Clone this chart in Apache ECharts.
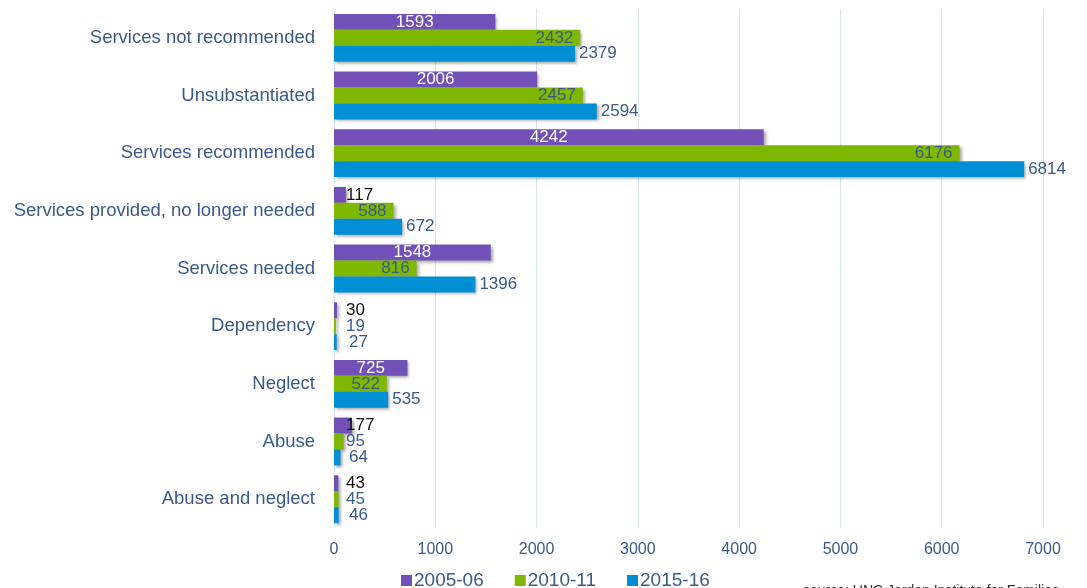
<!DOCTYPE html>
<html>
<head>
<meta charset="utf-8">
<script src="https://cdn.jsdelivr.net/npm/echarts@6/dist/echarts.min.js"></script>
<style>html,body{margin:0;padding:0;background:#fff}#c{width:1087px;height:588px}</style>
</head>
<body>
<div id="c"></div>
<script>
var categories = ["Services not recommended","Unsubstantiated","Services recommended","Services provided, no longer needed","Services needed","Dependency","Neglect","Abuse","Abuse and neglect"];
var s2005 = [1593, 2006, 4242, 117, 1548, 30, 725, 177, 43];
var s2010 = [2432, 2457, 6176, 588, 816, 19, 522, 95, 45];
var s2015 = [2379, 2594, 6814, 672, 1396, 27, 535, 64, 46];
var seriesNames = ["2005-06","2010-11","2015-16"];
var xTicks = [0,1000,2000,3000,4000,5000,6000,7000];

var FONT = '"Liberation Sans", Arial, sans-serif';
var TXT = '#3A5A88';
var shadow = {shadowBlur:3, shadowColor:'rgba(0,0,0,0.35)', shadowOffsetX:2, shadowOffsetY:2};

function purpleData(arr){
  return arr.map(function(v){
    if (v > 300) return {value:v, label:{position:'inside', color:'#fff'}};
    return {value:v, label:{position:'insideLeft', color:'#111', distance:12}};
  });
}
function greenData(arr){
  return arr.map(function(v){
    if (v > 300) return {value:v, label:{position:'insideRight', distance:7}};
    return {value:v, label:{position:'insideLeft', distance:12}};
  });
}
function blueData(arr){
  return arr.map(function(v){
    if (v > 100) return {value:v, label:{position:'right', distance:4}};
    return {value:v, label:{position:'insideLeft', distance:15}};
  });
}

var chart = echarts.init(document.getElementById('c'), null, {renderer:'canvas'});
chart.setOption({
  animation:false,
  grid:{left:334, right:44, top:9, bottom:60, containLabel:false},
  xAxis:{type:'value', min:xTicks[0], max:xTicks[xTicks.length-1], interval:xTicks[1]-xTicks[0],
    axisLine:{show:false}, axisTick:{show:false},
    splitLine:{lineStyle:{color:'#D8E4F2', width:1}},
    axisLabel:{color:TXT, fontSize:16, fontFamily:FONT, margin:14, formatter:function(v){return String(v);}}},
  yAxis:{type:'category', data:categories, inverse:true,
    axisLine:{lineStyle:{color:'#D8E4F2'}}, axisTick:{show:false},
    axisLabel:{color:TXT, fontSize:18.5, fontFamily:FONT, margin:19}},
  legend:{top:566, left:396, itemWidth:11, itemHeight:11, itemGap:31,
    icon:'rect', textStyle:{color:TXT, fontSize:19, fontFamily:FONT, padding:[0,0,0,-3]},
    data:seriesNames},
  series:[
    {name:seriesNames[0], type:'bar', data:purpleData(s2005), barGap:'0%', barCategoryGap:'17%',
      itemStyle:Object.assign({color:'#7150B8'}, shadow),
      label:{show:true, fontSize:17, fontFamily:FONT}},
    {name:seriesNames[1], type:'bar', data:greenData(s2010), barGap:'0%', barCategoryGap:'17%',
      itemStyle:Object.assign({color:'#7FB800'}, shadow),
      label:{show:true, fontSize:17, fontFamily:FONT, color:TXT}},
    {name:seriesNames[2], type:'bar', data:blueData(s2015), barGap:'0%', barCategoryGap:'17%',
      itemStyle:Object.assign({color:'#008FD5'}, shadow),
      label:{show:true, fontSize:17, fontFamily:FONT, color:TXT}}
  ],
  graphic:[{type:'text', left:803, top:584,
    style:{text:'source: UNC Jordan Institute for Families', fill:'#333', font:'14px "Liberation Sans", Arial, sans-serif'}}]
});
</script>
</body>
</html>
